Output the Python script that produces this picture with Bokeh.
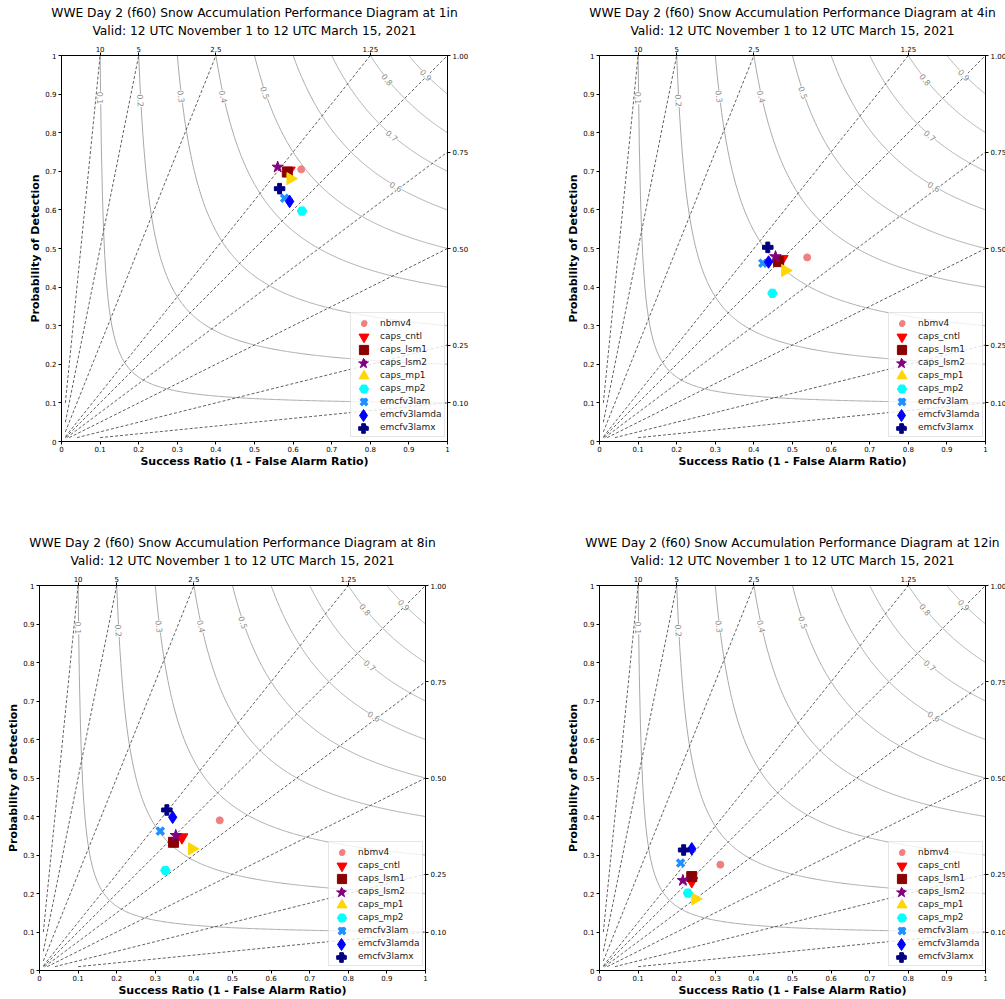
import numpy as np
from bokeh.plotting import figure
from bokeh.models import (Range1d, LinearAxis, FixedTicker, Title, Label,
                          Legend, LegendItem)
from bokeh.layouts import row, column
from bokeh.embed import file_html
from bokeh.resources import INLINE

FONT = "DejaVu Sans"

# ---------------- data ----------------
models = ["nbmv4", "caps_cntl", "caps_lsm1", "caps_lsm2", "caps_mp1",
          "caps_mp2", "emcfv3lam", "emcfv3lamda", "emcfv3lamx"]
thresholds = ["1in", "4in", "8in", "12in"]

sr_1in = [0.621, 0.590, 0.585, 0.560, 0.593, 0.623, 0.578, 0.591, 0.565]
pod_1in = [0.705, 0.702, 0.698, 0.711, 0.681, 0.597, 0.630, 0.622, 0.655]

sr_4in = [0.538, 0.473, 0.464, 0.456, 0.481, 0.448, 0.423, 0.438, 0.436]
pod_4in = [0.477, 0.473, 0.466, 0.479, 0.443, 0.384, 0.462, 0.465, 0.503]

sr_8in = [0.467, 0.369, 0.347, 0.353, 0.395, 0.326, 0.313, 0.345, 0.330]
pod_8in = [0.390, 0.346, 0.333, 0.351, 0.316, 0.260, 0.362, 0.398, 0.417]

sr_12in = [0.313, 0.239, 0.239, 0.216, 0.248, 0.229, 0.210, 0.239, 0.218]
pod_12in = [0.275, 0.232, 0.244, 0.234, 0.186, 0.201, 0.279, 0.316, 0.313]

csi_levels = [0.1, 0.2, 0.3, 0.4, 0.5, 0.6, 0.7, 0.8, 0.9]
csi_label_pod = [0.890, 0.883, 0.894, 0.894, 0.904, 0.661, 0.793, 0.938, 0.950]

bias_levels = [10, 5, 2.5, 1.25, 1.0, 0.75, 0.5, 0.25, 0.1]
top_ticks = [0.1, 0.2, 0.4, 0.8]
top_tick_labels = ["10", "5", "2.5", "1.25"]
right_ticks = [1.0, 0.75, 0.5, 0.25, 0.1]
right_tick_labels = ["1.00", "0.75", "0.50", "0.25", "0.10"]
main_ticks = [0.0, 0.1, 0.2, 0.3, 0.4, 0.5, 0.6, 0.7, 0.8, 0.9, 1.0]

title_line1 = "WWE Day 2 (f60) Snow Accumulation Performance Diagram at {}"
title_line2 = "Valid: 12 UTC November 1 to 12 UTC March 15, 2021"

# ---------------- styles ----------------
markers = ["circle", "inverted_triangle", "square", "star", "triangle",
           "hex", "x", "diamond", "plus"]
colors = ["#F08080", "#FF0000", "#8B0000", "#800080", "#FFD700",
          "#00FFFF", "#1E90FF", "#0000FF", "#000080"]
sizes = [7, 12, 10, 12, 12, 9.5, 10, 12.5, 10.5]
angles = [0, 0, 0, 0, -np.pi / 2, 0, 0, 0, 0]
lwidths = [1, 1, 1, 1, 1, 1, 3.5, 1, 1]
legend_marker_box = [13, 25, 23, 26, 25, 23, 23, 30, 24]   # legend glyph box (px)

TICK_FS = "7px"
LEG_ROW = 13
LEG_PAD = 3
LEG_GLYPH_W = 20
LEG_LEFT = 289      # legend box left, px from frame left
LEG_BOTTOM = 4      # legend box bottom, px above frame bottom


def style_axis(ax, ticks, labels=None):
    ax.ticker = FixedTicker(ticks=ticks)
    if labels is not None:
        ax.major_label_overrides = {t: l for t, l in zip(ticks, labels)}
    ax.major_label_text_font = FONT
    ax.major_label_text_font_size = TICK_FS
    ax.major_label_text_color = "black"
    ax.major_tick_out = 3
    ax.major_tick_in = 0
    ax.minor_tick_out = 0
    ax.minor_tick_in = 0
    ax.axis_line_color = "black"
    ax.major_tick_line_color = "black"
    ax.axis_label_text_font = FONT
    ax.axis_label_text_font_size = "11px"
    ax.axis_label_text_font_style = "bold"
    ax.axis_label_text_color = "black"


def make_panel(thr, sr, pod, bl, br, bt, bb, fh):
    p = figure(frame_width=386, frame_height=fh,
               x_range=Range1d(0, 1), y_range=Range1d(0, 1),
               output_backend="svg", toolbar_location=None, title=None,
               min_border_left=bl, min_border_right=br,
               min_border_top=bt, min_border_bottom=bb)
    p.grid.visible = False
    p.outline_line_color = "black"
    p.outline_line_width = 1

    # bottom / left axes
    xa = p.xaxis[0]
    ya = p.yaxis[0]
    style_axis(xa, main_ticks)
    style_axis(ya, main_ticks)
    xa.major_label_standoff = 1
    ya.major_label_standoff = 2
    xa.axis_label = "Success Ratio (1 - False Alarm Ratio)"
    ya.axis_label = "Probability of Detection"
    xa.axis_label_standoff = 0
    ya.axis_label_standoff = 0

    # right axis (bias)
    ra = LinearAxis()
    style_axis(ra, right_ticks, right_tick_labels)
    ra.major_label_standoff = 2
    p.add_layout(ra, "right")

    # top axis (bias)
    ta = LinearAxis()
    style_axis(ta, top_ticks, top_tick_labels)
    ta.major_label_standoff = 1
    p.add_layout(ta, "above")

    # two title lines (each centred)
    p.add_layout(Title(text=title_line2, align="center", text_font=FONT,
                       text_font_size="12.25px", text_font_style="normal",
                       text_color="black", standoff=10), "above")
    p.add_layout(Title(text=title_line1.format(thr), align="center",
                       text_font=FONT, text_font_size="12.25px",
                       text_font_style="normal", text_color="black",
                       standoff=-7), "above")

    # CSI contours
    cx, cy = [], []
    for c in csi_levels:
        x = np.linspace(c, 1.0, 300)
        y = 1.0 / (1.0 / c + 1.0 - 1.0 / x)
        cx.append(x)
        cy.append(y)
    p.multi_line(cx, cy, line_color="#a8a8a8", line_width=1)

    # bias lines
    bx, by = [], []
    for b in bias_levels:
        if b >= 1:
            bx.append([0.01, 1.0 / b])
            by.append([0.01 * b, 1.0])
        else:
            bx.append([0.01 / b, 1.0])
            by.append([0.01, b])
    p.multi_line(bx, by, line_color="#3a3a3a", line_width=0.8,
                 line_dash="3 2")

    # CSI labels
    for c, yl in zip(csi_levels, csi_label_pod):
        xl = 1.0 / (1.0 / c + 1.0 - 1.0 / yl)
        ang = np.arctan(-(yl ** 2) / (xl ** 2))
        p.add_layout(Label(x=xl, y=yl, text="{:.1f}".format(c), angle=ang,
                           text_align="center", text_baseline="middle",
                           text_font=FONT, text_font_size="8px",
                           text_color="#8c8c8c",
                           background_fill_color="white",
                           background_fill_alpha=1.0))

    # points
    renderers = []
    for i, m in enumerate(models):
        r = p.scatter([sr[i]], [pod[i]], marker=markers[i], size=sizes[i],
                      angle=angles[i], fill_color=colors[i],
                      line_color=colors[i], line_width=lwidths[i])
        renderers.append(r)

    # main legend: box + labels
    n = len(models)
    leg = Legend(items=[LegendItem(label=m, renderers=[r])
                        for m, r in zip(models, renderers)],
                 location=(LEG_LEFT, LEG_BOTTOM),
                 label_text_font=FONT, label_text_font_size="9px",
                 label_text_color="#222222",
                 glyph_height=LEG_ROW, glyph_width=LEG_GLYPH_W,
                 label_height=LEG_ROW, label_standoff=6, spacing=0,
                 padding=LEG_PAD, margin=0,
                 border_line_color="#cccccc", border_line_width=1,
                 background_fill_color="white", background_fill_alpha=0.8)
    p.add_layout(leg)

    # full-size legend markers drawn on top of the small ones
    gx = LEG_LEFT + LEG_PAD + LEG_GLYPH_W / 2
    for i, r in enumerate(renderers):
        g = legend_marker_box[i]
        gy = LEG_BOTTOM + LEG_PAD + (n - 1 - i) * LEG_ROW + LEG_ROW / 2
        ml = Legend(items=[LegendItem(label=" ", renderers=[r])],
                    location=(gx - g / 2, gy - g / 2),
                    glyph_height=g, glyph_width=g, label_height=0,
                    label_width=0, label_standoff=0, padding=0, margin=0,
                    label_text_font_size="1px",
                    border_line_alpha=0, background_fill_alpha=0)
        p.add_layout(ml)
    return p


p1 = make_panel(thresholds[0], sr_1in, pod_1in, 61, 92, 55, 90, 386)
p2 = make_panel(thresholds[1], sr_4in, pod_4in, 60, 20, 55, 90, 386)
p3 = make_panel(thresholds[2], sr_8in, pod_8in, 39, 114, 54, 29, 385)
p4 = make_panel(thresholds[3], sr_12in, pod_12in, 60, 20, 54, 29, 385)

layout = column(row(p1, p2), row(p3, p4))

with open("out.html", "w") as f:
    f.write(file_html(layout, INLINE))
